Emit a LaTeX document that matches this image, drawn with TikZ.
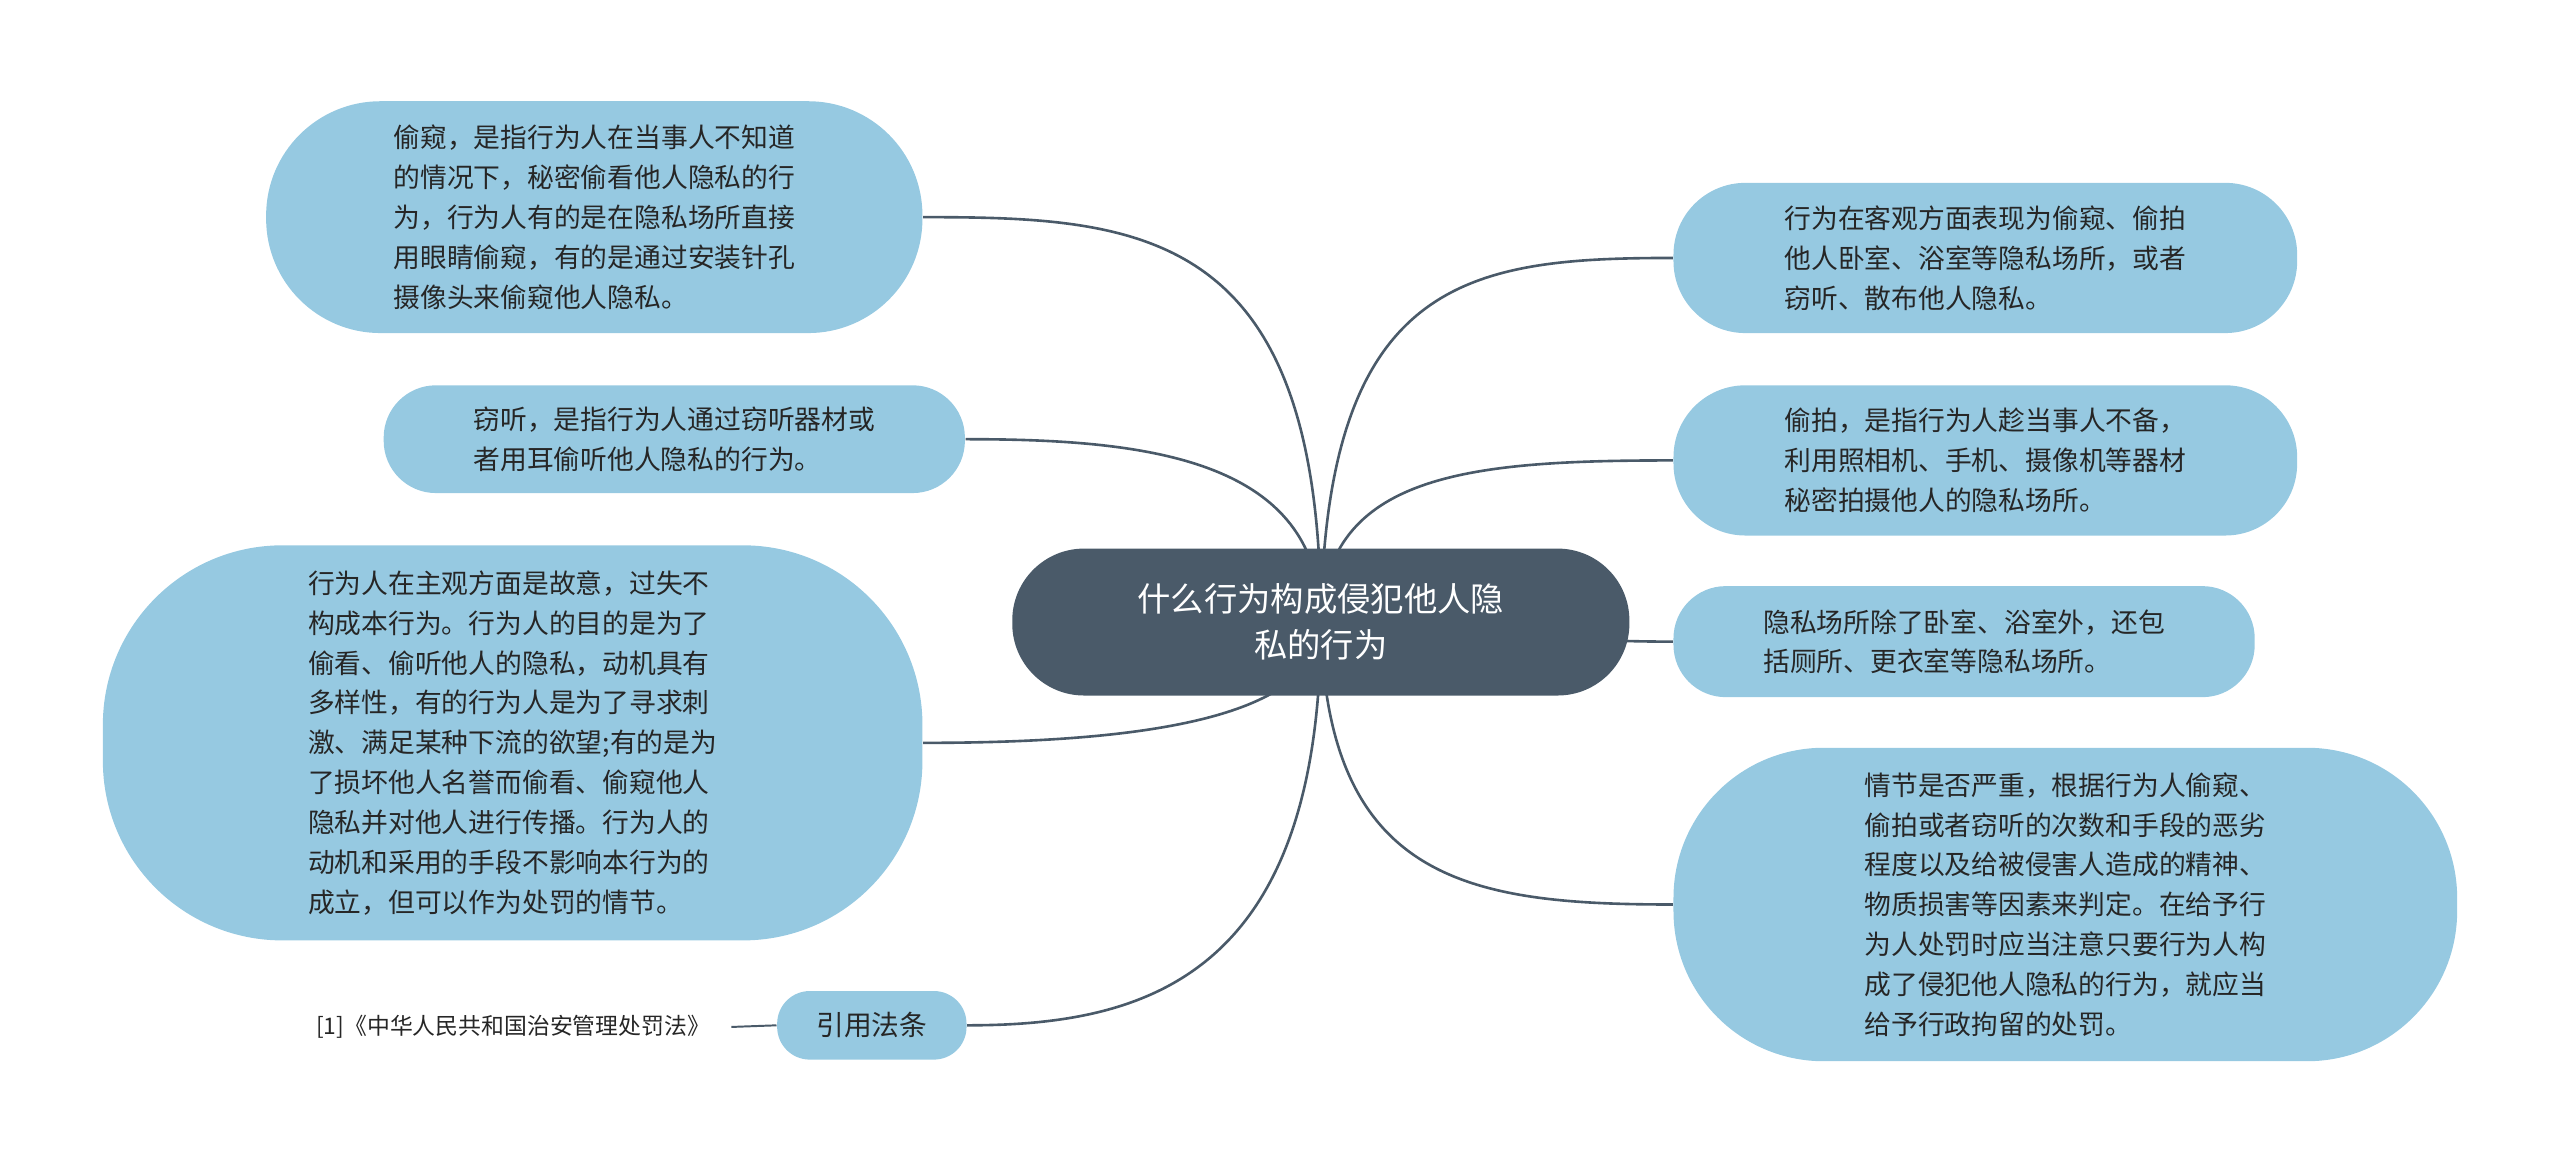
\documentclass[tikz,border=0pt]{standalone}
\usepackage{fontspec}
\setmainfont{Noto Sans CJK SC}
\usetikzlibrary{backgrounds}
\definecolor{leaf}{HTML}{96C9E1}
\definecolor{rootc}{HTML}{4A5A69}
\definecolor{linec}{HTML}{4A5A69}
\tikzset{
 leafbox/.style={fill=leaf,rounded corners=22pt,align=left,inner sep=0pt,font=\fontsize{8.2}{12.2}\selectfont,text=black!85},
 rootbox/.style={fill=rootc,rounded corners=22pt,align=center,text=white,font=\fontsize{10.2}{14}\selectfont},
 conn/.style={draw=linec,line width=0.8pt}
}
\begin{document}
\begin{tikzpicture}[x=0.5pt,y=-0.5pt]
\useasboundingbox (0,0) rectangle (1568,712);
\node[rootbox,minimum width=189pt,minimum height=45pt] (root) at (809,381) {什么行为构成侵犯他人隐\\私的行为};
\node[leafbox,minimum width=201pt,minimum height=71pt,rounded corners=35pt] (l1) at (364,133) {偷窥，是指行为人在当事人不知道\\的情况下，秘密偷看他人隐私的行\\为，行为人有的是在隐私场所直接\\用眼睛偷窥，有的是通过安装针孔\\摄像头来偷窥他人隐私。};
\node[leafbox,minimum width=178pt,minimum height=33pt,rounded corners=16pt] (l2) at (413,269) {窃听，是指行为人通过窃听器材或\\者用耳偷听他人隐私的行为。};
\node[leafbox,minimum width=251pt,minimum height=121pt,rounded corners=55pt] (l3) at (314,455) {行为人在主观方面是故意，过失不\\构成本行为。行为人的目的是为了\\偷看、偷听他人的隐私，动机具有\\多样性，有的行为人是为了寻求刺\\激、满足某种下流的欲望;有的是为\\了损坏他人名誉而偷看、偷窥他人\\隐私并对他人进行传播。行为人的\\动机和采用的手段不影响本行为的\\成立，但可以作为处罚的情节。};
\node[leafbox,minimum width=58pt,minimum height=21pt,rounded corners=10pt,align=center,font=\fontsize{8.5}{12}\selectfont] (l4) at (534,628) {引用法条};
\node[font=\fontsize{7}{8}\selectfont,text=black!85,anchor=east] (ref) at (442,629) {[1]《中华人民共和国治安管理处罚法》};
\node[leafbox,minimum width=191pt,minimum height=46pt,rounded corners=22pt] (r1) at (1216,158) {行为在客观方面表现为偷窥、偷拍\\他人卧室、浴室等隐私场所，或者\\窃听、散布他人隐私。};
\node[leafbox,minimum width=191pt,minimum height=46pt,rounded corners=22pt] (r2) at (1216,282) {偷拍，是指行为人趁当事人不备，\\利用照相机、手机、摄像机等器材\\秘密拍摄他人的隐私场所。};
\node[leafbox,minimum width=178pt,minimum height=34pt,rounded corners=16pt] (r3) at (1203,393) {隐私场所除了卧室、浴室外，还包\\括厕所、更衣室等隐私场所。};
\node[leafbox,minimum width=240pt,minimum height=96pt,rounded corners=46pt] (r4) at (1265,554) {情节是否严重，根据行为人偷窥、\\偷拍或者窃听的次数和手段的恶劣\\程度以及给被侵害人造成的精神、\\物质损害等因素来判定。在给予行\\为人处罚时应当注意只要行为人构\\成了侵犯他人隐私的行为，就应当\\给予行政拘留的处罚。};
\begin{scope}[on background layer]
\coordinate (c) at (809,381);
\draw[conn] (c) .. controls (809,140) and (700,133) .. (l1.east);
\draw[conn] (c) .. controls (809,280) and (700,269) .. (l2.east);
\draw[conn] (c) .. controls (809,440) and (700,455) .. (l3.east);
\draw[conn] (c) .. controls (809,600) and (700,628) .. (l4.east);
\draw[conn] (c) .. controls (812,170) and (900,158) .. (r1.west);
\draw[conn] (c) .. controls (812,290) and (900,282) .. (r2.west);
\draw[conn] (c) .. controls (900,385) and (950,393) .. (r3.west);
\draw[conn] (c) .. controls (812,540) and (900,554) .. (r4.west);
\draw[conn,line width=0.6pt] (ref.east)++(6,0) -- (l4.west);
\end{scope}
\end{tikzpicture}
\end{document}
